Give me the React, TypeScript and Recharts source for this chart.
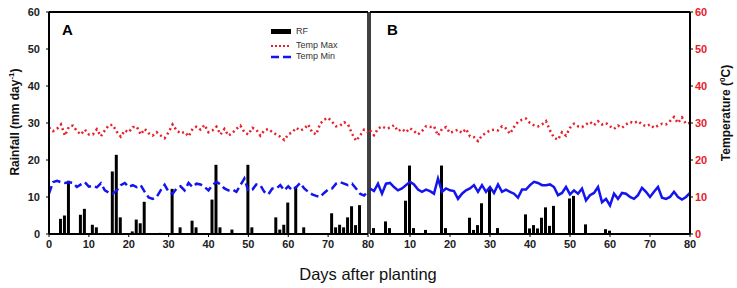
import React from 'react';
import { ComposedChart, Bar, Line, XAxis, YAxis, ReferenceLine } from 'recharts';

// Rainfall (mm/day): days with rain and their amounts
const rfDaysA = [3, 4, 5, 8, 9, 11, 12, 16, 17, 18, 21, 22, 23, 24, 28, 31, 33, 36, 37, 41, 42, 43, 46, 50, 51, 57, 58, 59, 60, 62, 64, 71, 72, 73, 74, 75, 76, 77, 78];
const rfValsA = [4.1, 5.0, 14.4, 5.2, 6.8, 2.5, 1.8, 16.9, 21.4, 4.5, 0.7, 3.9, 2.9, 8.7, 0.3, 12.2, 1.8, 3.6, 1.8, 9.3, 18.7, 1.8, 1.2, 18.7, 1.8, 4.5, 1.2, 2.5, 8.5, 12.8, 1.8, 5.6, 1.8, 2.5, 1.8, 4.5, 7.5, 2.4, 7.8];
const rfDaysB = [1, 4, 5, 9, 10, 11, 14, 18, 19, 25, 26, 27, 28, 30, 32, 39, 40, 41, 42, 43, 44, 45, 46, 50, 51, 54, 59, 60];
const rfValsB = [1.6, 3.4, 1.6, 9.0, 18.5, 1.6, 1.1, 18.5, 1.6, 4.4, 1.1, 2.4, 8.3, 12.6, 1.6, 5.3, 1.5, 2.4, 1.5, 4.4, 7.2, 2.2, 7.6, 9.6, 10.3, 2.6, 1.3, 0.9];

// Daily temperature (deg C), days 0..80
const tMaxA = [28.8, 27.8, 28.4, 29.6, 26.6, 29.0, 29.3, 27.8, 26.9, 28.2, 26.9, 26.9, 28.3, 26.4, 28.0, 29.4, 29.5, 27.6, 26.3, 28.0, 27.5, 28.9, 29.0, 26.9, 28.4, 27.2, 26.6, 27.5, 26.6, 25.9, 27.5, 29.6, 28.0, 27.2, 27.6, 26.4, 28.4, 29.0, 28.2, 29.5, 27.5, 28.0, 29.0, 26.9, 28.4, 26.6, 27.3, 28.4, 29.3, 27.5, 26.9, 28.7, 28.2, 26.6, 28.0, 28.4, 27.5, 26.9, 26.3, 25.4, 26.9, 27.5, 28.7, 28.0, 28.4, 29.6, 27.5, 26.9, 29.8, 30.9, 31.4, 30.3, 29.1, 29.3, 30.2, 29.6, 27.1, 25.2, 26.6, 28.2, 27.5];
const tMinA = [10.9, 14.0, 14.4, 14.0, 13.8, 14.0, 13.8, 12.7, 13.4, 14.0, 12.8, 13.0, 12.6, 13.7, 11.8, 11.2, 10.9, 11.8, 13.2, 13.8, 12.7, 13.2, 12.7, 13.2, 11.4, 9.9, 9.5, 10.0, 11.8, 13.3, 11.4, 10.9, 12.3, 12.9, 11.8, 13.8, 12.7, 13.6, 13.4, 12.7, 11.8, 13.2, 14.1, 13.4, 12.3, 11.8, 12.0, 11.4, 13.2, 15.0, 11.6, 12.0, 13.4, 13.2, 11.4, 10.7, 12.3, 12.3, 13.2, 11.8, 12.9, 11.8, 12.7, 13.8, 12.3, 11.4, 10.7, 10.3, 10.0, 11.1, 12.0, 12.3, 13.6, 14.0, 13.6, 13.2, 13.6, 12.3, 10.9, 10.4, 11.5];
const tMaxB = [28.0, 26.7, 28.5, 29.1, 28.5, 28.7, 29.4, 27.8, 28.4, 27.5, 28.6, 27.8, 26.9, 27.8, 29.1, 28.9, 29.1, 26.6, 28.4, 28.9, 27.3, 27.8, 28.2, 27.3, 28.4, 26.4, 26.2, 25.1, 26.6, 27.3, 28.0, 28.2, 28.0, 29.1, 28.5, 27.1, 28.9, 30.3, 30.9, 31.2, 30.0, 29.4, 29.1, 29.6, 30.5, 28.0, 26.0, 25.5, 27.5, 26.6, 28.7, 29.8, 29.1, 28.9, 29.6, 30.3, 29.4, 30.5, 29.6, 30.0, 29.1, 28.4, 29.3, 28.7, 29.6, 30.3, 30.0, 30.5, 29.6, 29.1, 29.6, 28.7, 29.3, 29.8, 29.6, 30.5, 31.6, 30.0, 31.5, 29.8, 30.0];
const tMinB = [12.3, 11.6, 13.6, 10.9, 13.6, 13.8, 12.7, 11.8, 12.3, 13.2, 14.1, 13.4, 12.0, 11.4, 12.0, 11.6, 10.9, 15.0, 11.4, 12.3, 11.8, 11.6, 9.5, 10.9, 11.8, 12.3, 13.2, 11.4, 13.2, 11.4, 12.7, 11.1, 13.4, 11.4, 12.0, 11.4, 10.9, 9.8, 12.0, 12.0, 13.2, 14.1, 13.8, 13.2, 13.2, 13.4, 12.7, 10.5, 11.1, 12.7, 10.7, 11.8, 10.9, 12.3, 9.1, 10.5, 11.1, 12.7, 8.6, 9.5, 7.7, 10.9, 9.5, 11.1, 10.9, 10.0, 9.5, 10.5, 12.5, 11.4, 10.0, 11.4, 12.7, 9.8, 9.5, 10.0, 11.4, 10.0, 9.3, 10.0, 11.1];

const yTicks = [0, 10, 20, 30, 40, 50, 60];
const xTicksA = [0, 10, 20, 30, 40, 50, 60, 70, 80];
const xTicksB = [10, 20, 30, 40, 50, 60, 70, 80];

const FONT = '"Liberation Sans", Arial, sans-serif';
const RED = '#e8202a';
const BLUE = '#1414f0';

function buildData(rfDays: number[], rfVals: number[], tMax: number[], tMin: number[]) {
  return tMax.map((v, day) => {
    const k = rfDays.indexOf(day);
    return { day, rf: k >= 0 ? rfVals[k] : null, tmax: v, tmin: tMin[day] };
  });
}

const dataA = buildData(rfDaysA, rfValsA, tMaxA, tMinA);
const dataB = buildData(rfDaysB, rfValsB, tMaxB, tMinB);

const tickStyle = { fontFamily: FONT, fontSize: 11, fontWeight: 700, fill: '#222' };

function Panel({ data, side, xTicks, solidMin }: { data: any[]; side: 'A' | 'B'; xTicks: number[]; solidMin: boolean }) {
  const isA = side === 'A';
  return (
    <ComposedChart
      width={isA ? 382 : 369}
      height={288}
      data={data}
      margin={isA ? { top: 12, right: 14, bottom: 34, left: 0 } : { top: 12, right: 22, bottom: 34, left: 2 }}
    >
      <XAxis
        dataKey="day"
        type="number"
        domain={[0, 80]}
        ticks={xTicks}
        interval={0}
        height={20}
        tick={tickStyle}
        tickSize={3}
        tickMargin={3}
        axisLine={{ stroke: '#000', strokeWidth: 2 }}
        tickLine={{ stroke: '#000' }}
      />
      <YAxis
        yAxisId="rf"
        domain={[0, 60]}
        ticks={yTicks}
        interval={0}
        width={49}
        hide={!isA}
        tick={tickStyle}
        tickSize={3}
        tickMargin={6}
        axisLine={{ stroke: '#000', strokeWidth: 2 }}
        tickLine={{ stroke: '#000' }}
      />
      <YAxis
        yAxisId="t"
        orientation="right"
        domain={[0, 60]}
        ticks={yTicks}
        interval={0}
        width={25}
        hide={isA}
        tick={{ ...tickStyle, fill: RED }}
        tickSize={3}
        tickMargin={2}
        axisLine={{ stroke: '#000', strokeWidth: 2 }}
        tickLine={{ stroke: '#000' }}
      />
      <ReferenceLine yAxisId="rf" y={60} stroke="#000" strokeWidth={2} />
      {isA ? (
        <ReferenceLine yAxisId="rf" x={80} stroke="#000" strokeWidth={1.5} />
      ) : (
        <ReferenceLine yAxisId="rf" x={0} stroke="#000" strokeWidth={1.5} />
      )}
      <Bar yAxisId="rf" dataKey="rf" barSize={3} fill="#000" isAnimationActive={false} />
      <Line
        yAxisId="t"
        dataKey="tmax"
        stroke={RED}
        strokeWidth={2.5}
        strokeDasharray="2 3"
        dot={false}
        type="linear"
        isAnimationActive={false}
      />
      <Line
        yAxisId="t"
        dataKey="tmin"
        stroke={BLUE}
        strokeWidth={2.5}
        strokeDasharray={solidMin ? undefined : '8 4'}
        dot={false}
        type="linear"
        isAnimationActive={false}
      />
    </ComposedChart>
  );
}

export default function App() {
  return (
    <div style={{ position: 'absolute', left: 0, top: 0, width: 737, height: 288, background: '#fff', fontFamily: FONT }}>
      <div style={{ position: 'absolute', left: 368, top: 0 }}>
        <Panel data={dataB} side="B" xTicks={xTicksB} solidMin={true} />
      </div>
      <div style={{ position: 'absolute', left: 0, top: 0 }}>
        <Panel data={dataA} side="A" xTicks={xTicksA} solidMin={false} />
      </div>

      <div style={{ position: 'absolute', left: 62, top: 21, fontSize: 15, fontWeight: 700 }}>A</div>
      <div style={{ position: 'absolute', left: 387, top: 21, fontSize: 15, fontWeight: 700 }}>B</div>

      {/* legend */}
      <div style={{ position: 'absolute', left: 270, top: 26, fontSize: 9, color: '#333', lineHeight: '11px' }}>
        <div style={{ display: 'flex', alignItems: 'center', height: 11 }}>
          <svg width={24} height={11}><rect x={1} y={3} width={20} height={5} fill="#000" /></svg>
          <span style={{ marginLeft: 2 }}>RF</span>
        </div>
        <div style={{ display: 'flex', alignItems: 'center', height: 11, marginTop: 3 }}>
          <svg width={24} height={11}><line x1={1} y1={6} x2={21} y2={6} stroke={RED} strokeWidth={2} strokeDasharray="2 2" /></svg>
          <span style={{ marginLeft: 2 }}>Temp Max</span>
        </div>
        <div style={{ display: 'flex', alignItems: 'center', height: 11 }}>
          <svg width={24} height={11}><line x1={1} y1={6} x2={21} y2={6} stroke={BLUE} strokeWidth={2.5} strokeDasharray="8 4" /></svg>
          <span style={{ marginLeft: 2 }}>Temp Min</span>
        </div>
      </div>

      {/* axis titles */}
      <div
        style={{
          position: 'absolute', left: 14, top: 122, transform: 'translate(-50%, -50%) rotate(-90deg)',
          fontSize: 12, fontWeight: 700, whiteSpace: 'nowrap', color: '#111',
        }}
      >
        Rainfall (mm day<sup style={{ fontSize: 8 }}>-1</sup>)
      </div>
      <div
        style={{
          position: 'absolute', left: 725, top: 113, transform: 'translate(-50%, -50%) rotate(-90deg)',
          fontSize: 12, fontWeight: 700, whiteSpace: 'nowrap', color: '#111',
        }}
      >
        Temperature (<sup style={{ fontSize: 8 }}>0</sup>C)
      </div>
      <div
        style={{
          position: 'absolute', left: 368, top: 274, transform: 'translate(-50%, -50%)',
          fontSize: 16.5, whiteSpace: 'nowrap', color: '#111',
        }}
      >
        Days after planting
      </div>
    </div>
  );
}
